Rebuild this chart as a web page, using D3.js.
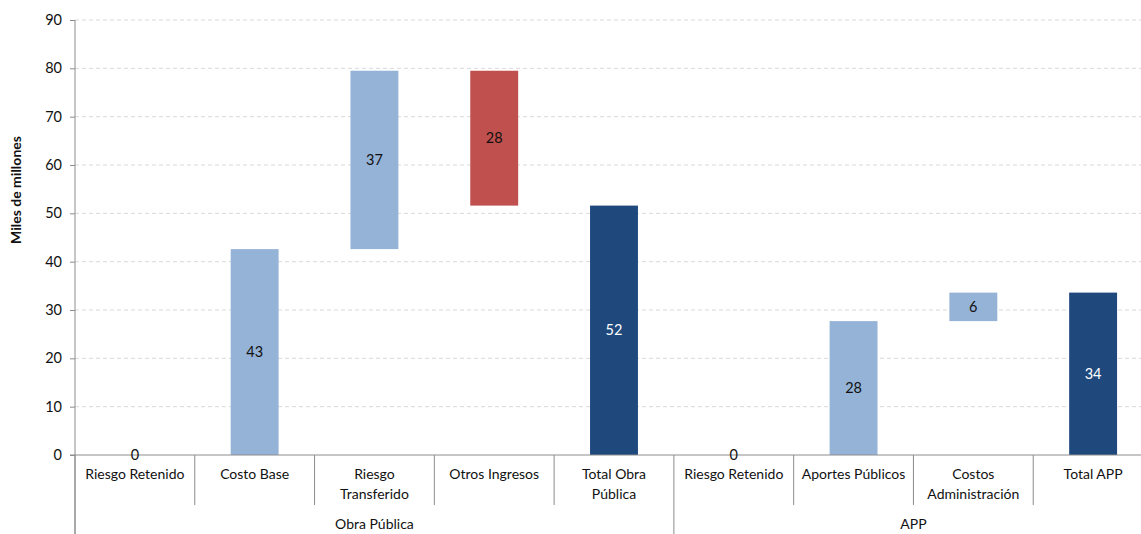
<!DOCTYPE html>
<html>
<head>
<meta charset="utf-8">
<script src="https://cdn.jsdelivr.net/npm/d3@7"></script>
<style>
  html, body { margin: 0; padding: 0; background: #fff; }
  svg { display: block; font-family: Lato, "Open Sans", sans-serif; }
</style>
</head>
<body>
<svg id="chart" width="1141" height="534"></svg>
<script>
// Waterfall steps (miles de millones); "\n" marks a line break in the axis label
const categories = [
  "Riesgo Retenido", "Costo Base", "Riesgo\nTransferido", "Otros Ingresos",
  "Total Obra\nPública", "Riesgo Retenido", "Aportes Públicos",
  "Costos\nAdministración", "Total APP"
];
const groupOf = [0, 0, 0, 0, 0, 1, 1, 1, 1];
const groups = ["Obra Pública", "APP"];
const values = [0, 42.6, 36.9, -27.9, 51.6, 0, 27.7, 5.9, 33.6];
const kinds = ["step", "step", "step", "step", "total", "step", "step", "step", "total"];
const yTicks = [0, 10, 20, 30, 40, 50, 60, 70, 80, 90];
const yTitle = "Miles de millones";

const colors = { up: "#95B3D7", down: "#C0504D", total: "#1F497D" };

(function draw() {
  const svg = d3.select("#chart");
  const plotLeft = 75, plotRight = 1153, plotTop = 20, base = 455, plotBottom = 534;
  const ink = "#111";

  const keys = categories.map((c, i) => i);
  const x = d3.scaleBand().domain(keys).range([plotLeft, plotRight])
    .paddingInner(0.6).paddingOuter(0.3);
  const step = x.step();
  const y = d3.scaleLinear().domain([0, 90]).range([base, plotTop]);

  // Running totals per group
  const bars = [];
  let running = 0, prevGroup = -1;
  values.forEach((v, i) => {
    if (groupOf[i] !== prevGroup) { running = 0; prevGroup = groupOf[i]; }
    let y0, y1, color;
    if (kinds[i] === "total") {
      y0 = 0; y1 = v; color = colors.total;
      running = v;
    } else {
      y0 = running; y1 = running + v; running = y1;
      color = v < 0 ? colors.down : colors.up;
    }
    bars.push({ i, v, y0, y1, color, kind: kinds[i] });
  });

  // Gridlines
  svg.append("g")
    .selectAll("line")
    .data(yTicks.filter(t => t > 0))
    .join("line")
    .attr("x1", plotLeft).attr("x2", 1141)
    .attr("y1", d => y(d)).attr("y2", d => y(d))
    .attr("stroke", "#d9d9d9").attr("stroke-width", 1)
    .attr("stroke-dasharray", "4,3");

  // Bars
  svg.append("g")
    .selectAll("rect")
    .data(bars.filter(b => b.v !== 0))
    .join("rect")
    .attr("x", d => x(d.i))
    .attr("width", x.bandwidth())
    .attr("y", d => y(Math.max(d.y0, d.y1)))
    .attr("height", d => Math.abs(y(d.y0) - y(d.y1)))
    .attr("fill", d => d.color);

  // Y axis
  const yAxis = d3.axisLeft(y).tickValues(yTicks).tickSize(5).tickPadding(8)
    .tickFormat(d3.format("d"));
  const ya = svg.append("g").attr("transform", `translate(${plotLeft},0)`).call(yAxis);
  ya.select(".domain").remove();
  ya.selectAll("line").attr("stroke", "#8c8c8c");
  ya.selectAll("text").attr("font-size", 14.5).attr("fill", ink)
    .attr("font-family", "Lato, 'Open Sans', sans-serif");
  svg.append("line")
    .attr("x1", plotLeft).attr("x2", plotLeft).attr("y1", plotTop).attr("y2", plotBottom)
    .attr("stroke", "#8c8c8c");

  // X axis baseline and category separators
  svg.append("line")
    .attr("x1", plotLeft - 5).attr("x2", 1141).attr("y1", base).attr("y2", base)
    .attr("stroke", "#8c8c8c");
  const sepX = keys.map(k => x(k) - step * 0.3).concat([plotRight]);
  const groupStarts = new Set([sepX[0], sepX[5]]);
  svg.append("g")
    .selectAll("line")
    .data(sepX)
    .join("line")
    .attr("x1", d => d).attr("x2", d => d)
    .attr("y1", base)
    .attr("y2", d => groupStarts.has(d) ? plotBottom : 505)
    .attr("stroke", "#8c8c8c");

  // Category labels
  const catG = svg.append("g");
  categories.forEach((c, i) => {
    const cx = x(i) + x.bandwidth() / 2;
    const t = catG.append("text")
      .attr("x", cx).attr("y", 479)
      .attr("text-anchor", "middle")
      .attr("font-size", 14).attr("fill", ink);
    c.split("\n").forEach((line, j) => {
      t.append("tspan").attr("x", cx).attr("dy", j === 0 ? 0 : 20).text(line);
    });
  });

  // Group labels
  groups.forEach((g, gi) => {
    const idx = keys.filter(k => groupOf[k] === gi);
    const x0 = x(idx[0]) - step * 0.3;
    const x1 = x(idx[idx.length - 1]) + x.bandwidth() + step * 0.3;
    svg.append("text")
      .attr("x", (x0 + x1) / 2).attr("y", 529)
      .attr("text-anchor", "middle")
      .attr("font-size", 14).attr("fill", ink)
      .text(g);
  });

  // Value labels
  svg.append("g")
    .selectAll("text")
    .data(bars)
    .join("text")
    .attr("x", d => x(d.i) + x.bandwidth() / 2)
    .attr("y", d => y((d.y0 + d.y1) / 2))
    .attr("dy", "0.35em")
    .attr("text-anchor", "middle")
    .attr("font-size", 14.5)
    .attr("fill", d => d.kind === "total" ? "#fff" : ink)
    .text(d => d3.format(".0f")(Math.abs(d.v)));

  // Y axis title
  svg.append("text")
    .attr("transform", "translate(21,190) rotate(-90)")
    .attr("text-anchor", "middle")
    .attr("font-size", 14).attr("font-weight", "bold").attr("fill", ink)
    .text(yTitle);
})();
</script>
</body>
</html>
